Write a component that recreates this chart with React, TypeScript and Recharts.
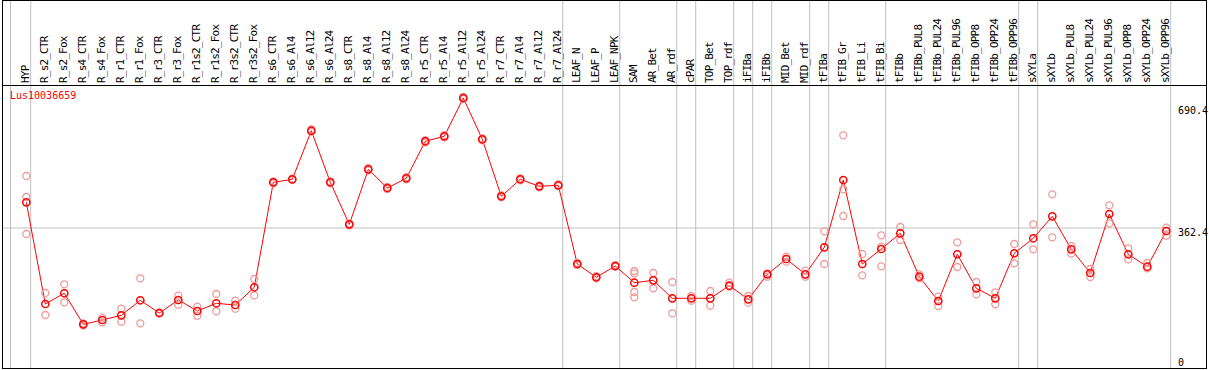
import {
  ComposedChart,
  Line,
  ReferenceLine,
  Scatter,
  XAxis,
  YAxis,
} from 'recharts';

const categories = [
  'HYP', 'R_s2_CTR', 'R_s2_Fox', 'R_s4_CTR', 'R_s4_Fox', 'R_r1_CTR', 'R_r1_Fox',
  'R_r3_CTR', 'R_r3_Fox', 'R_r1s2_CTR', 'R_r1s2_Fox', 'R_r3s2_CTR', 'R_r3s2_Fox',
  'R_s6_CTR', 'R_s6_Al4', 'R_s6_Al12', 'R_s6_Al24', 'R_s8_CTR', 'R_s8_Al4',
  'R_s8_Al12', 'R_s8_Al24', 'R_r5_CTR', 'R_r5_Al4', 'R_r5_Al12', 'R_r5_Al24',
  'R_r7_CTR', 'R_r7_Al4', 'R_r7_Al12', 'R_r7_Al24', 'LEAF_N', 'LEAF_P', 'LEAF_NPK',
  'SAM', 'AR_Bet', 'AR_rdf', 'cPAR', 'TOP_Bet', 'TOP_rdf', 'iFIBa', 'iFIBb',
  'MID_Bet', 'MID_rdf', 'tFIBa', 'tFIB_Gr', 'tFIB_Li', 'tFIB_Bi', 'tFIBb',
  'tFIBb_PUL8', 'tFIBb_PUL24', 'tFIBb_PUL96', 'tFIBb_OPP8', 'tFIBb_OPP24',
  'tFIBb_OPP96', 'sXYLa', 'sXYLb', 'sXYLb_PUL8', 'sXYLb_PUL24', 'sXYLb_PUL96',
  'sXYLb_OPP8', 'sXYLb_OPP24', 'sXYLb_OPP96',
];

const means = [
  434.0, 150.5, 180.4, 93.9, 105.9, 119.0, 160.9, 125.4, 161.7, 131.0, 152.5,
  147.7, 197.1, 489.8, 498.2, 633.6, 489.8, 372.7, 526.0, 473.9, 501.0, 604.1,
  618.0, 724.8, 609.7, 450.8, 498.2, 478.6, 481.4, 262.0, 225.0, 256.5, 209.9,
  216.6, 166.4, 166.4, 166.4, 201.6, 163.6, 233.3, 276.0, 233.3, 308.6, 496.2,
  262.0, 303.9, 347.6, 226.6, 158.9, 289.1, 194.3, 166.4, 291.9, 333.7, 395.0,
  303.0, 237.0, 401.4, 289.1, 254.5, 354.0,
];

const replicates = [
  [507.4, 448.8, 345.7], [181.2, 119.9], [205.5, 155.3], [96.7, 91.2], [112.3, 99.5],
  [137.4, 101.2], [222.2, 96.7], [124, 127], [173.7, 148.6], [143.0, 117.9],
  [178.4, 130.2], [159.7, 137.4], [220.2, 174.8], [487, 492], [496, 500],
  [630, 637], [487, 492], [370, 375], [523, 529], [471, 477], [498, 504],
  [601, 607], [615, 621], [722, 728], [607, 612], [448, 454], [495, 501],
  [476, 481], [479, 484], [259, 265], [222, 228], [254, 259],
  [242.5, 236.1, 184.0, 169.2], [237.0, 194.3], [211.9, 124.6], [172.8, 159.7],
  [186.8, 145.8], [209.9, 198.8], [172.8, 154.2], [236.1, 226.6], [282.4, 268.5],
  [243.4, 226.6], [353.2, 262.0], [620.8, 470.3, 395.9], [289.9, 230.5],
  [342.0, 310.3, 255.6], [365.2, 329.0], [233.3, 222.2], [170.9, 145.0],
  [322.5, 253.7], [211.9, 177.6], [183.2, 149.7], [317.8, 264.0], [372.7, 303.0],
  [456.3, 336.5], [312.2, 290.8], [248.1, 225.8], [425.7, 375.5], [305.8, 275.1],
  [264.8, 250.1], [363.2, 340.9],
];

// separators between groups, in category-index units
const separators = [0.232, 28.232, 31.232, 34.232, 35.232, 37.232, 38.232,
  39.232, 41.232, 42.232, 45.232, 52.232, 53.232, 60.232];
const yTicks = [0, 362.4, 690.4];
const geneId = 'Lus10036659';

const FONT = '"DejaVu Sans Mono", monospace';
const RED = '#ff0000';
const PINK = '#f09a9a';
const GRID = '#c0c0c0';
const Y_MIN = -30.66;
const Y_MAX = 995.2;
// keep x positions positive on the numeric axis
const OFF = 2;
const X_MIN = -1.279 + OFF;
const X_MAX = 62.09 + OFF;

const lineData = means.map((v, i) => ({ x: i + OFF, mean: v }));
const repData = replicates.flatMap((arr, i) => arr.map((v) => ({ x: i + OFF, y: v })));
const indexTicks = categories.map((_, i) => i + OFF);

function CategoryTick(props: any) {
  const { x, payload } = props;
  const label = categories[payload.value - OFF] ?? '';
  return (
    <text
      transform={`translate(${x + 3},83) rotate(-90)`}
      fontFamily={FONT}
      fontSize={11}
      letterSpacing={-0.8}
      fill="#000"
      textAnchor="start"
    >
      {label}
    </text>
  );
}

function ValueTick(props: any) {
  const { y, payload } = props;
  const dy = payload.value === 690.4 ? 3.5 : 7.5;
  return (
    <text x={1178} y={y + dy} fontFamily={FONT} fontSize={10} fill="#000">
      {payload.value}
    </text>
  );
}

function MeanDot(props: any) {
  const { cx, cy, index } = props;
  return (
    <circle key={`m${index}`} cx={cx} cy={cy} r={3.6} fill="none" stroke={RED} strokeWidth={1.5} />
  );
}

function RepDot(props: any) {
  const { cx, cy } = props;
  return <circle cx={cx} cy={cy} r={3.5} fill="none" stroke={PINK} strokeWidth={1.3} />;
}

export default function App() {
  return (
    <div style={{ position: 'relative', width: 1209, height: 370, background: '#fff' }}>
      <style>{'body{margin:0}'}</style>
      <ComposedChart
        width={1209}
        height={370}
        data={lineData}
        margin={{ top: 0, right: 2, left: 2, bottom: 1 }}
      >
        <XAxis
          dataKey="x"
          type="number"
          orientation="top"
          height={1}
          domain={[X_MIN, X_MAX]}
          allowDataOverflow
          ticks={indexTicks}
          interval={0}
          tick={<CategoryTick />}
          tickLine={false}
          axisLine={false}
        />
        <YAxis
          type="number"
          orientation="right"
          width={1}
          domain={[Y_MIN, Y_MAX]}
          allowDataOverflow
          ticks={yTicks}
          interval={0}
          tick={<ValueTick />}
          tickLine={false}
          axisLine={false}
        />
        {separators.map((s, i) => (
          <ReferenceLine
            key={`sep${i}`}
            x={s + OFF}
            stroke={GRID}
            strokeWidth={1}
            ifOverflow="extendDomain"
          />
        ))}
        <ReferenceLine
          segment={[
            { x: X_MIN, y: 362.4 },
            { x: 60.232 + OFF, y: 362.4 },
          ]}
          stroke={GRID}
          strokeWidth={1}
          ifOverflow="visible"
        />
        <Scatter data={repData} dataKey="y" shape={<RepDot />} isAnimationActive={false} />
        <Line
          type="linear"
          dataKey="mean"
          stroke={RED}
          strokeWidth={1}
          dot={<MeanDot />}
          activeDot={false}
          isAnimationActive={false}
        />
      </ComposedChart>
      {/* left edge of the category area */}
      <div
        style={{
          position: 'absolute',
          left: 10,
          top: 0,
          width: 1,
          height: 369,
          background: GRID,
          zIndex: 5,
          pointerEvents: 'none',
        }}
      />
      <div
        style={{
          position: 'absolute',
          left: 2,
          top: 0,
          width: 1203,
          height: 367,
          border: '1px solid #000',
          pointerEvents: 'none',
          zIndex: 6,
        }}
      />
      <div
        style={{
          position: 'absolute',
          left: 2,
          top: 85,
          width: 1205,
          height: 1,
          background: '#000',
          zIndex: 6,
        }}
      />
      <div
        style={{
          position: 'absolute',
          left: 10,
          top: 90,
          color: RED,
          fontFamily: FONT,
          fontSize: 10,
          lineHeight: '12px',
          zIndex: 7,
        }}
      >
        {geneId}
      </div>
    </div>
  );
}
